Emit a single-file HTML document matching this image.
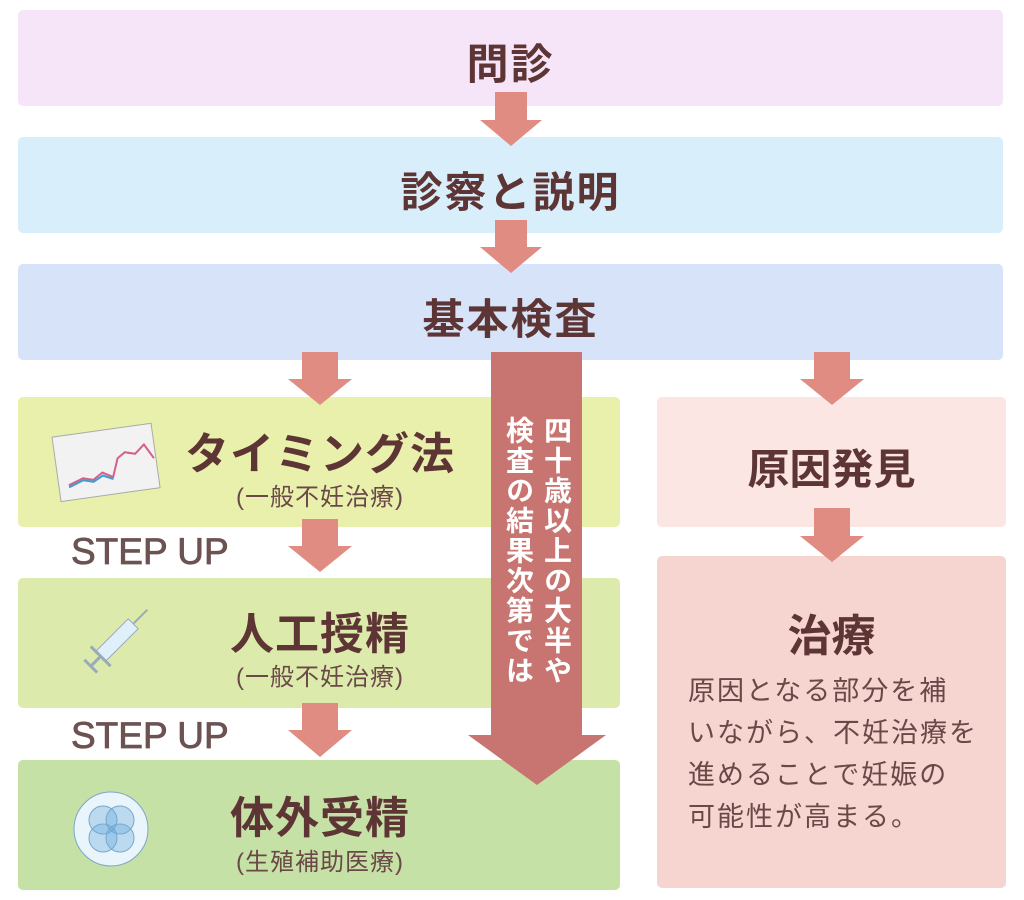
<!DOCTYPE html>
<html><head><meta charset="utf-8"><style>
body{margin:0;width:1024px;height:900px;background:#fff;position:relative;overflow:hidden;font-family:"Liberation Sans","Noto Sans CJK JP",sans-serif;color:#5e3535}
.b{position:absolute;border-radius:5px}
.t{position:absolute;text-align:center;font-weight:bold;white-space:nowrap}
.s{position:absolute;text-align:center;white-space:nowrap;font-size:24px;color:#6b4848;letter-spacing:1px}
svg{position:absolute;left:0;top:0}
</style></head><body>
<div class="b" style="left:18px;top:10px;width:985px;height:96px;background:#f6e5f9"></div>
<div class="b" style="left:18px;top:137px;width:985px;height:96px;background:#d9eefb"></div>
<div class="b" style="left:18px;top:264px;width:985px;height:96px;background:#d6e3f8"></div>
<div class="b" style="left:18px;top:397px;width:602px;height:130px;background:#e8f0ac"></div>
<div class="b" style="left:18px;top:578px;width:602px;height:130px;background:#dcebac"></div>
<div class="b" style="left:18px;top:760px;width:602px;height:130px;background:#c6e1a6"></div>
<div class="b" style="left:657px;top:397px;width:349px;height:130px;background:#fbe6e3"></div>
<div class="b" style="left:657px;top:556px;width:349px;height:332px;background:#f6d5d0"></div>
<svg width="1024" height="900">
<g fill="#e08c82">
<polygon points="495,92 527,92 527,120 542,120 511,146 480,120 495,120"/>
<polygon points="495,220 527,220 527,247 542,247 511,273 480,247 495,247"/>
<polygon points="302,352 338,352 338,379 352,379 320,405 288,379 302,379"/>
<polygon points="814,352 850,352 850,379 864,379 832,405 800,379 814,379"/>
<polygon points="302,519 338,519 338,546 352,546 320,572 288,546 302,546"/>
<polygon points="814,508 850,508 850,536 864,536 832,562 800,536 814,536"/>
<polygon points="302,703 338,703 338,730 352,730 320,757 288,730 302,730"/>
</g>
<polygon fill="#c87470" points="491,352 582,352 582,735 606,735 537,785 468,735 491,735"/>
<g transform="translate(55,420) rotate(-8 50 35)"><rect x="0" y="10" width="100" height="65" fill="#f2f2f2" stroke="#aaa"/><polyline points="10,60 25,55 35,58 45,52 55,58 62,40 70,35 80,38 90,30 98,45" fill="none" stroke="#d4608a" stroke-width="2"/><polyline points="10,62 25,57 35,60 45,55 55,60" fill="none" stroke="#3aa0d0" stroke-width="2"/></g>
<g transform="translate(112,645) rotate(45)"><rect x="-7" y="-30" width="14" height="46" fill="#dff0fb" stroke="#9ab" /><line x1="0" y1="-30" x2="0" y2="-50" stroke="#9ab" stroke-width="2"/><line x1="-14" y1="16" x2="14" y2="16" stroke="#9ab" stroke-width="3"/><line x1="0" y1="16" x2="0" y2="30" stroke="#9ab" stroke-width="3"/><line x1="-9" y1="30" x2="9" y2="30" stroke="#9ab" stroke-width="3"/></g>
<g fill="rgba(100,170,220,0.35)" stroke="#7aa7c9"><circle cx="111" cy="829" r="37" fill="#eaf4fb"/><circle cx="103" cy="820" r="14"/><circle cx="120" cy="820" r="14"/><circle cx="103" cy="838" r="14"/><circle cx="120" cy="838" r="14"/></g>
</svg>
<div class="t" style="left:18px;width:985px;top:31px;font-size:42px;letter-spacing:2px">問診</div>
<div class="t" style="left:18px;width:985px;top:159px;font-size:42px;letter-spacing:2px">診察と説明</div>
<div class="t" style="left:18px;width:985px;top:286px;font-size:42px;letter-spacing:2px">基本検査</div>
<div class="t" style="left:170px;width:300px;top:418px;font-size:44px;letter-spacing:1px">タイミング法</div>
<div class="s" style="left:170px;width:300px;top:477px">(一般不妊治療)</div>
<div class="t" style="left:170px;width:300px;top:598px;font-size:44px;letter-spacing:1px">人工授精</div>
<div class="s" style="left:170px;width:300px;top:657px">(一般不妊治療)</div>
<div class="t" style="left:170px;width:300px;top:782px;font-size:44px;letter-spacing:1px">体外受精</div>
<div class="s" style="left:170px;width:300px;top:842px">(生殖補助医療)</div>
<div class="t" style="left:71px;top:531px;font-size:37px;color:#6d5252;font-weight:normal;-webkit-text-stroke:0.8px #6d5252">STEP UP</div>
<div class="t" style="left:71px;top:715px;font-size:37px;color:#6d5252;font-weight:normal;-webkit-text-stroke:0.8px #6d5252">STEP UP</div>
<div class="t" style="left:657px;width:349px;top:436px;font-size:42px">原因発見</div>
<div class="t" style="left:657px;width:349px;top:600px;font-size:44px">治療</div>
<div style="position:absolute;left:688px;top:670px;font-size:27px;line-height:42px;color:#6b4848;letter-spacing:2px">原因となる部分を補<br>いながら、不妊治療を<br>進めることで妊娠の<br>可能性が高まる。</div>
<div style="position:absolute;left:499px;top:416px;height:300px;writing-mode:vertical-rl;font-size:28px;line-height:38px;color:#fff;font-weight:bold;letter-spacing:2px">四十歳以上の大半や<br>検査の結果次第では</div>
</body></html>
